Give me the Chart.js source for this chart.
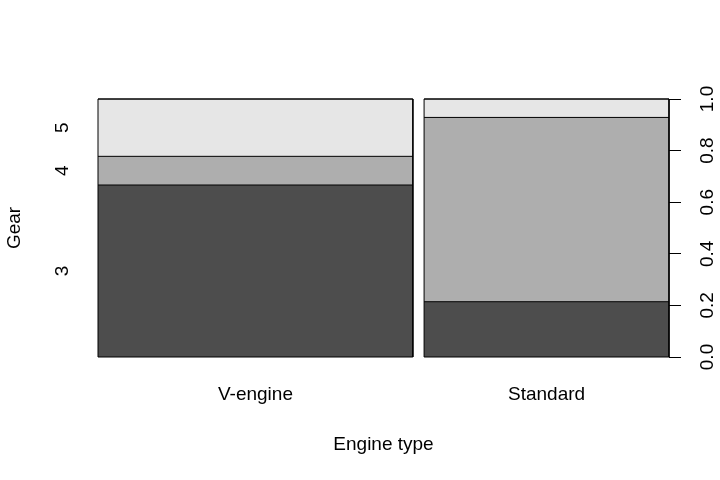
<!DOCTYPE html>
<html>
<head>
<meta charset="utf-8">
<script src="https://cdn.jsdelivr.net/npm/chart.js@4.4.1/dist/chart.umd.min.js"></script>
<style>
  html, body { margin: 0; padding: 0; background: #ffffff; }
  #wrap { width: 720px; height: 480px; }
</style>
</head>
<body>
<div id="wrap"><canvas id="spine" width="720" height="480"></canvas></div>
<script>
// mtcars: engine type (vs) by number of gears
const engineTypes = ['V-engine', 'Standard'];
const gearLevels = ['3', '4', '5'];
const gearCounts = [
    [12, 2, 4],   // V-engine
    [3, 10, 1]    // Standard
];
const gearColors = ['#4d4d4d', '#aeaeae', '#e6e6e6'];
const yTicks = [0, 0.2, 0.4, 0.6, 0.8, 1.0];
const yTickLabels = ['0.0', '0.2', '0.4', '0.6', '0.8', '1.0'];
const gapFrac = 0.02;

const FONT = '19px "Liberation Sans", Arial, sans-serif';

const totals = gearCounts.map(row => row.reduce((a, b) => a + b, 0));
const grand = totals.reduce((a, b) => a + b, 0);

// column x ranges and stacked segments in proportion units
const columns = [];
let xStart = 0;
totals.forEach((tot, i) => {
    const w = tot / grand;
    let y0 = 0;
    const segs = gearCounts[i].map(c => {
        const y1 = y0 + c / tot;
        const s = { y0, y1 };
        y0 = y1;
        return s;
    });
    columns.push({ x0: xStart, x1: xStart + w, segs });
    xStart += w + gapFrac;
});
const xMax = xStart - gapFrac;

const datasets = [];
// column outlines first so they are painted on top
columns.forEach(col => {
    datasets.push({
        data: [{ x: col.x0, y: 0 }, { x: col.x0, y: 1 }, { x: col.x1, y: 1 }, { x: col.x1, y: 0 }, { x: col.x0, y: 0 }],
        showLine: true, fill: false, borderColor: '#000000', borderWidth: 1,
        pointRadius: 0, tension: 0, clip: false
    });
});
columns.forEach(col => {
    col.segs.forEach((s, k) => {
        datasets.push({
            data: [{ x: col.x0, y: s.y1 }, { x: col.x1, y: s.y1 }],
            showLine: true, fill: { value: s.y0 }, backgroundColor: gearColors[k],
            borderColor: '#000000', borderWidth: 1, pointRadius: 0, tension: 0, clip: false
        });
    });
});

function rotText(ctx, txt, x, y) {
    ctx.save();
    ctx.translate(x, y);
    ctx.rotate(-Math.PI / 2);
    ctx.fillText(txt, 0, 0);
    ctx.restore();
}

const labelPlugin = {
    id: 'spineLabels',
    afterDraw(chart) {
        const ctx = chart.ctx;
        const xs = chart.scales.x, ys = chart.scales.y;
        const area = chart.chartArea;
        ctx.save();
        ctx.fillStyle = '#000000';
        ctx.font = FONT;
        ctx.textAlign = 'center';
        ctx.textBaseline = 'middle';
        // right axis tick labels
        yTicks.forEach((v, i) => rotText(ctx, yTickLabels[i], 708, ys.getPixelForValue(v)));
        // left labels at the middle of the first column's segments
        columns[0].segs.forEach((s, k) => rotText(ctx, gearLevels[k], 63, ys.getPixelForValue((s.y0 + s.y1) / 2)));
        rotText(ctx, 'Gear', 15, (area.top + area.bottom) / 2);
        // category labels
        ctx.textBaseline = 'alphabetic';
        columns.forEach((col, i) => {
            ctx.fillText(engineTypes[i], xs.getPixelForValue((col.x0 + col.x1) / 2), 400);
        });
        ctx.fillText('Engine type', (area.left + area.right) / 2, 450);
        ctx.restore();
    }
};

new Chart(document.getElementById('spine').getContext('2d'), {
    type: 'scatter',
    data: { datasets },
    options: {
        responsive: false,
        animation: false,
        devicePixelRatio: 1,
        layout: { padding: { left: 98, right: 39, top: 99, bottom: 123 } },
        plugins: { legend: { display: false }, tooltip: { enabled: false } },
        scales: {
            x: { type: 'linear', min: 0, max: xMax, display: false },
            y: {
                type: 'linear', position: 'right', min: 0, max: 1,
                afterBuildTicks: scale => { scale.ticks = yTicks.map(v => ({ value: v })); },
                afterFit: scale => { scale.width = 12; },
                ticks: { display: false },
                grid: { drawOnChartArea: false, drawTicks: true, tickLength: 12, color: '#000000', lineWidth: 1 },
                border: { display: false }
            }
        }
    },
    plugins: [labelPlugin]
});
</script>
</body>
</html>
